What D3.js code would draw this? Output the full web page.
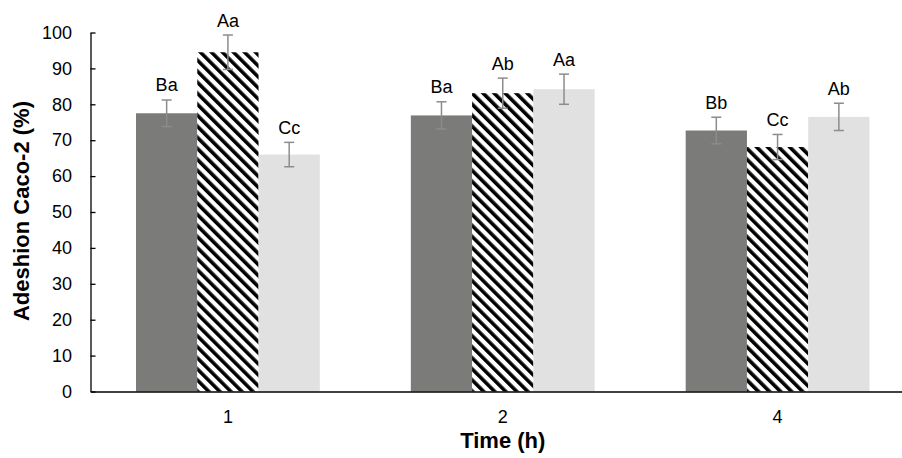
<!DOCTYPE html>
<html>
<head>
<meta charset="utf-8">
<script src="https://cdn.jsdelivr.net/npm/d3@7"></script>
<style>
  body { margin: 0; background: #fff; }
  svg { display: block; font-family: "Liberation Sans", Arial, sans-serif; }
</style>
</head>
<body>
<div id="chart"></div>
<script>
// data
const times = ["1", "2", "4"];
const series = ["s1", "s2", "s3"];
const means = [
  [77.5, 94.5, 66.0],
  [76.9, 83.1, 84.2],
  [72.7, 68.1, 76.5]
];
const errors = [
  [3.7, 4.8, 3.4],
  [3.8, 4.2, 4.2],
  [3.7, 3.5, 3.8]
];
const letters = [
  ["Ba", "Aa", "Cc"],
  ["Ba", "Ab", "Aa"],
  ["Bb", "Cc", "Ab"]
];
const yTicks = [0, 10, 20, 30, 40, 50, 60, 70, 80, 90, 100];

const W = 902, H = 458;
const margin = {left: 90.5, top: 32.5, bottom: 66.5};
const plotRight = 915; // the last group runs past the picture edge

const svg = d3.select("#chart").append("svg")
  .attr("width", W)
  .attr("height", H);

// hatch for the middle series
const defs = svg.append("defs");
defs.append("pattern")
  .attr("id", "hatch")
  .attr("patternUnits", "userSpaceOnUse")
  .attr("width", 7.8)
  .attr("height", 7.8)
  .attr("patternTransform", "rotate(-45)")
  .call(p => {
    p.append("rect").attr("width", 7.8).attr("height", 7.8).attr("fill", "#fff");
    p.append("rect").attr("width", 3.6).attr("height", 7.8).attr("fill", "#000");
  });

const fills = ["#7b7b79", "url(#hatch)", "#e0e1e0"];

const x0 = d3.scaleBand()
  .domain(times)
  .range([margin.left, plotRight])
  .paddingInner(0)
  .paddingOuter(0);

const groupPad = 45.5;
const x1 = d3.scaleBand()
  .domain(series)
  .range([groupPad, x0.bandwidth() - groupPad]);

const y = d3.scaleLinear()
  .domain([0, 100])
  .range([H - margin.bottom, margin.top]);

const rows = (t, i) => series.map((s, j) => ({s, j, v: means[i][j], e: errors[i][j], lab: letters[i][j]}));

// bars
const groups = svg.append("g")
  .selectAll("g")
  .data(times)
  .join("g")
  .attr("transform", t => `translate(${x0(t)},0)`);

groups.selectAll("rect")
  .data(rows)
  .join("rect")
  .attr("x", d => x1(d.s))
  .attr("y", d => y(d.v))
  .attr("width", x1.bandwidth())
  .attr("height", d => y(0) - y(d.v))
  .attr("fill", d => fills[d.j]);

// error bars
const errG = groups.selectAll("g.err")
  .data(rows)
  .join("g")
  .attr("class", "err")
  .attr("transform", d => `translate(${x1(d.s) + x1.bandwidth() / 2},0)`);

errG.append("line")
  .attr("y1", d => y(d.v - d.e))
  .attr("y2", d => y(d.v + d.e))
  .attr("stroke", "#8c8c8c")
  .attr("stroke-width", 1.5);
errG.selectAll("line.cap")
  .data(d => [d.v - d.e, d.v + d.e])
  .join("line")
  .attr("class", "cap")
  .attr("x1", -5).attr("x2", 5)
  .attr("y1", v => y(v)).attr("y2", v => y(v))
  .attr("stroke", "#8c8c8c")
  .attr("stroke-width", 1.5);

// letters
errG.append("text")
  .attr("y", d => y(d.v + d.e) - 8.5)
  .attr("text-anchor", "middle")
  .style("font-size", "18px")
  .attr("fill", "#000")
  .text(d => d.lab);

// y axis (ticks inward)
const yAxis = svg.append("g")
  .attr("transform", `translate(${margin.left},0)`)
  .call(d3.axisLeft(y).tickValues(yTicks).tickSizeInner(-5).tickSizeOuter(0).tickPadding(18.5));
yAxis.select(".domain").attr("stroke", "#000").attr("stroke-width", 1.3);
yAxis.selectAll(".tick line").attr("stroke", "#000").attr("stroke-width", 1.3);
yAxis.selectAll(".tick text")
  .style("font-size", "18px")
  .style("font-family", "'Liberation Sans', Arial, sans-serif")
  .attr("fill", "#000");

// x axis
const xAxis = svg.append("g")
  .attr("transform", `translate(0,${y(0)})`)
  .call(d3.axisBottom(x0).tickSize(0).tickPadding(18.5));
xAxis.select(".domain").attr("stroke", "#000").attr("stroke-width", 1.5);
xAxis.selectAll(".tick text")
  .style("font-size", "18px")
  .style("font-family", "'Liberation Sans', Arial, sans-serif")
  .attr("fill", "#000");

// axis titles
svg.append("text")
  .attr("x", (margin.left + plotRight) / 2)
  .attr("y", 448)
  .attr("text-anchor", "middle")
  .style("font-size", "22px")
  .style("font-weight", "bold")
  .text("Time (h)");

svg.append("text")
  .attr("transform", `translate(29,${(y(0) + y(100)) / 2 - 1}) rotate(-90)`)
  .attr("text-anchor", "middle")
  .style("font-size", "22px")
  .style("font-weight", "bold")
  .text("Adeshion Caco-2 (%)");
</script>
</body>
</html>
